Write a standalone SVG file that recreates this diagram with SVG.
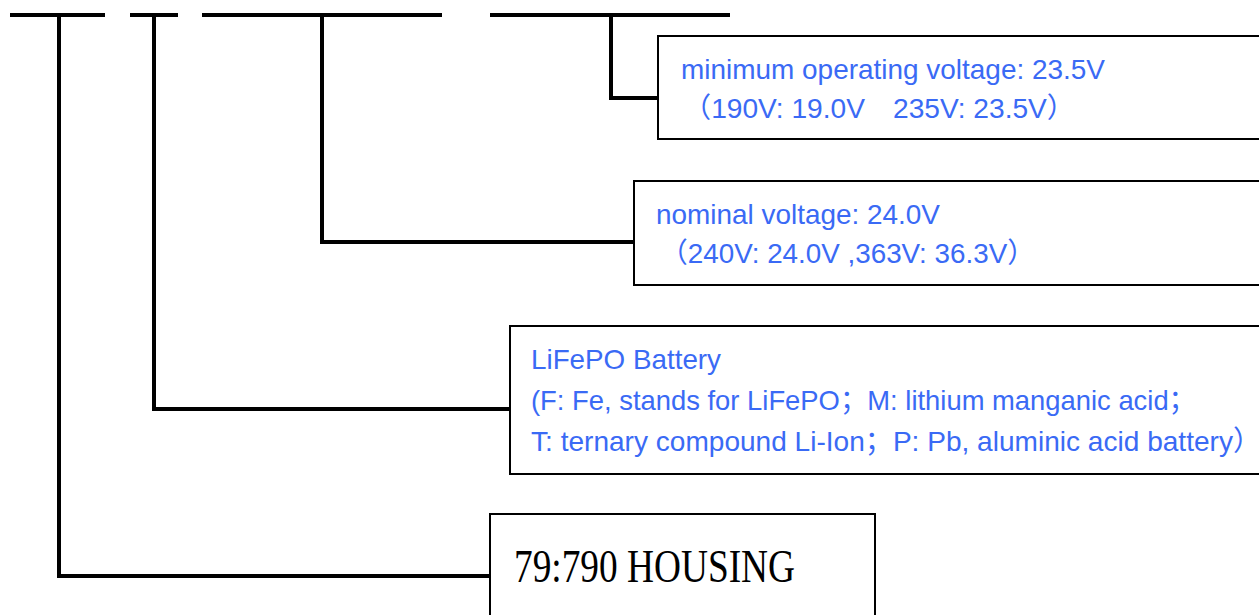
<svg xmlns="http://www.w3.org/2000/svg" width="1259" height="615" viewBox="0 0 1259 615">
<style>
.bar{stroke:#000;stroke-width:4;fill:none;stroke-linecap:butt}
.con{stroke:#000;stroke-width:4;fill:none;stroke-linejoin:miter}
.box{fill:#fff;stroke:#000;stroke-width:2}
.t{font-family:"Liberation Sans","Noto Sans CJK SC",Arial,sans-serif;font-size:28px;fill:#3a6af5}
.h{font-family:"Liberation Serif","Noto Sans CJK SC",serif;font-size:46px;fill:#000}
</style>
<rect width="1259" height="615" fill="#fff"/>
<g id="connectors">
<line class="bar" x1="10" y1="15" x2="105" y2="15"/>
<line class="bar" x1="130" y1="15" x2="178" y2="15"/>
<line class="bar" x1="202" y1="15" x2="442" y2="15"/>
<line class="bar" x1="490" y1="15" x2="730" y2="15"/>
<polyline class="con" points="611,15 611,98 658,98"/>
<polyline class="con" points="322,15 322,242 634,242"/>
<polyline class="con" points="154,15 154,409 510,409"/>
<polyline class="con" points="59,15 59,576 490,576"/>
</g>
<g id="node-min-voltage">
<rect class="box" x="658" y="36" width="610" height="103"/>
<text class="t" x="681" y="79" textLength="424" lengthAdjust="spacingAndGlyphs">minimum operating voltage: 23.5V</text>
<text class="t" x="683" y="118" textLength="392" lengthAdjust="spacingAndGlyphs">（190V: 19.0V　235V: 23.5V）</text>
</g>
<g id="node-nominal-voltage">
<rect class="box" x="634" y="181" width="634" height="104"/>
<text class="t" x="656" y="224" textLength="284" lengthAdjust="spacingAndGlyphs">nominal voltage: 24.0V</text>
<text class="t" x="660" y="263" textLength="375" lengthAdjust="spacingAndGlyphs">（240V: 24.0V ,363V: 36.3V）</text>
</g>
<g id="node-battery">
<rect class="box" x="510" y="326" width="758" height="148"/>
<text class="t" x="531" y="369" textLength="190" lengthAdjust="spacingAndGlyphs">LiFePO Battery</text>
<text class="t" x="531" y="410" textLength="665" lengthAdjust="spacingAndGlyphs">(F: Fe, stands for LiFePO；M: lithium manganic acid；</text>
<text class="t" x="531" y="451" textLength="730" lengthAdjust="spacingAndGlyphs">T: ternary compound Li-Ion；P: Pb, aluminic acid battery）</text>
</g>
<g id="node-housing">
<rect class="box" x="490" y="514" width="385" height="110"/>
<text class="h" x="514" y="582" textLength="281" lengthAdjust="spacingAndGlyphs">79:790 HOUSING</text>
</g>
</svg>
